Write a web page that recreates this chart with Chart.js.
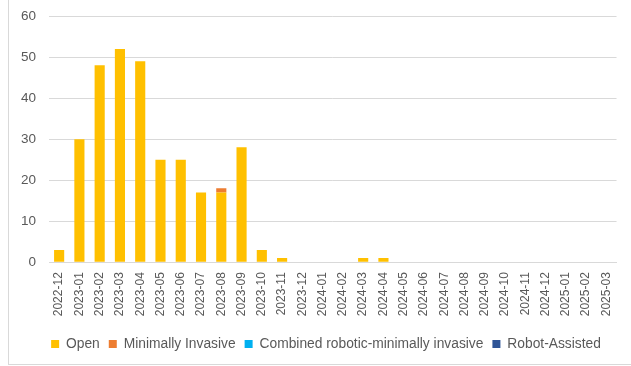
<!DOCTYPE html>
<html>
<head>
<meta charset="utf-8">
<script src="https://cdn.jsdelivr.net/npm/chart.js@4/dist/chart.umd.min.js"></script>
<style>
  html, body { margin: 0; padding: 0; background: #ffffff; }
  #frame {
    position: absolute; left: 8px; top: -1px;
    width: 630px; height: 366px;
    border: 1px solid #d9d9d9; box-sizing: border-box;
  }
  #wrap { position: absolute; left: 0; top: -5px; width: 622px; height: 368px; }
</style>
</head>
<body>
<div id="frame"><div id="wrap"><canvas id="c"></canvas></div></div>
<script>
// Monthly procedure counts by surgical approach
const months = [
  '2022-12','2023-01','2023-02','2023-03','2023-04','2023-05','2023-06','2023-07',
  '2023-08','2023-09','2023-10','2023-11','2023-12','2024-01','2024-02','2024-03',
  '2024-04','2024-05','2024-06','2024-07','2024-08','2024-09','2024-10','2024-11',
  '2024-12','2025-01','2025-02','2025-03'
];
const openCounts     = [3,30,48,52,49,25,25,17,17,28,3,1,0,0,0,1,1,0,0,0,0,0,0,0,0,0,0,0];
const minimallyInv   = [0,0,0,0,0,0,0,0,1,0,0,0,0,0,0,0,0,0,0,0,0,0,0,0,0,0,0,0];
const combinedRobMin = [0,0,0,0,0,0,0,0,0,0,0,0,0,0,0,0,0,0,0,0,0,0,0,0,0,0,0,0];
const robotAssisted  = [0,0,0,0,0,0,0,0,0,0,0,0,0,0,0,0,0,0,0,0,0,0,0,0,0,0,0,0];
const yTicks = [0,10,20,30,40,50,60];

const grey = '#595959';
const font = "'Liberation Sans', Arial, sans-serif";

const ds = (label, data, color) => ({
  label, data, backgroundColor: color, borderWidth: 0,
  barPercentage: 0.5, categoryPercentage: 1.0
});

new Chart(document.getElementById('c'), {
  type: 'bar',
  data: {
    labels: months,
    datasets: [
      ds('Open', openCounts, '#FFC000'),
      ds('Minimally Invasive', minimallyInv, '#ED7D31'),
      ds('Combined robotic-minimally invasive', combinedRobMin, '#00B0F0'),
      ds('Robot-Assisted', robotAssisted, '#2F5597')
    ]
  },
  options: {
    responsive: true,
    maintainAspectRatio: false,
    animation: false,
    layout: { padding: { top: 3, right: 0, bottom: 2, left: 12 } },
    plugins: {
      tooltip: { enabled: false },
      legend: {
        position: 'bottom',
        labels: {
          boxWidth: 8, boxHeight: 8, padding: 9,
          color: grey, font: { family: font, size: 13.8 }
        }
      }
    },
    scales: {
      x: {
        stacked: true,
        grid: { display: false, drawTicks: false },
        border: { color: '#d9d9d9', width: 1 },
        ticks: {
          color: grey, font: { family: font, size: 12 },
          minRotation: 90, maxRotation: 90, autoSkip: false, padding: 10
        },
        afterFit(s) { s.height = 66; }
      },
      y: {
        stacked: true,
        min: 0, max: 60,
        afterBuildTicks(s) { s.ticks = yTicks.map(v => ({ value: v })); },
        grid: { color: '#d9d9d9', drawTicks: false, lineWidth: 1 },
        border: { display: false },
        ticks: { color: grey, font: { family: font, size: 13.5 }, padding: 13 },
        afterFit(s) { s.width = 28; }
      },
      // empty margin on the right of the plot
      yRight: {
        position: 'right',
        min: 0, max: 60,
        grid: { display: false, drawTicks: false },
        border: { display: false },
        ticks: { display: false },
        afterFit(s) { s.width = 11; }
      }
    }
  }
});
</script>
</body>
</html>
